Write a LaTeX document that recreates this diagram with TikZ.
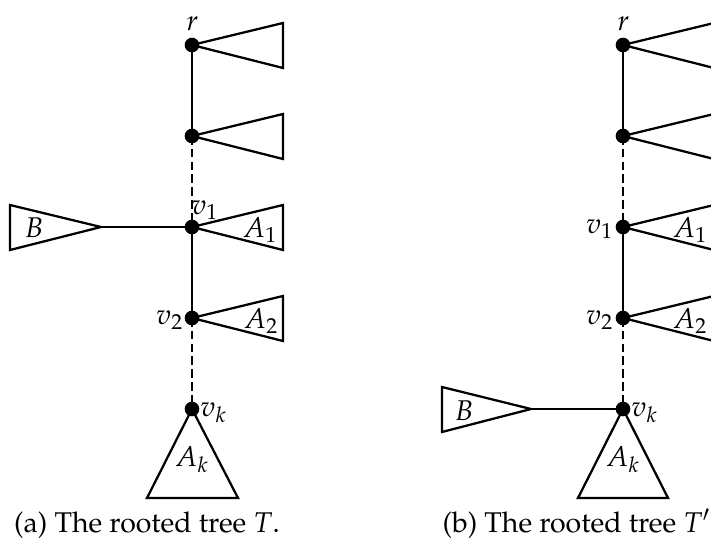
\documentclass[tikz,border=0pt]{standalone}
\usepackage[T1]{fontenc}
\usepackage{mathpazo}
\pgfdeclarelayer{bg}
\pgfsetlayers{bg,main}
\begin{document}
\begin{tikzpicture}[x=0.375pt,y=-0.375pt,
  every node/.style={font=\fontsize{10.7}{12.8}\selectfont},
  dot/.style={circle,fill=black,inner sep=0pt,minimum size=5.5pt},
  edge/.style={line width=0.85pt},
  dashedge/.style={line width=0.85pt,dash pattern=on 3.2pt off 1.6pt},
  tri/.style={line width=0.85pt,line join=miter},
  lbl/.style={inner sep=0pt}]
\useasboundingbox (0,0) rectangle (711,545);
\clip (0,0) rectangle (711,545);
% ---------- left tree (a) ----------
\node[dot] (ar) at (192,45) {};
\node[dot] (an) at (192,136) {};
\node[dot] (av1) at (192,227) {};
\node[dot] (av2) at (192,318) {};
\node[dot] (avk) at (192,409) {};
\coordinate (aBapex) at (101,227);
\begin{pgfonlayer}{bg}
\draw[edge] (ar.center) -- (an.center);
\draw[dashedge] (an.center) -- (av1.center);
\draw[edge] (av1.center) -- (av2.center);
\draw[dashedge] (av2.center) -- (avk.center);
\draw[edge] (aBapex) -- (av1.center);
\draw[tri] (ar.center) -- (283,23) -- (283,68) -- cycle;
\draw[tri] (an.center) -- (283,114) -- (283,159) -- cycle;
\draw[tri] (av1.center) -- (283,205) -- (283,250) -- cycle;
\draw[tri] (av2.center) -- (283,296) -- (283,341) -- cycle;
\draw[tri] (avk.center) -- (238,498) -- (147,498) -- cycle;
\draw[tri] (aBapex) -- (10,205) -- (10,250) -- cycle;
\end{pgfonlayer}
\node[lbl,anchor=base] (arl) at (192.5,31) {$r$};
\node[lbl] (av1l) at (205,210) {$v_1$};
\node[lbl,anchor=east] (av2l) at (184,320) {$v_2$};
\node[lbl,anchor=west] (avkl) at (200,413) {$v_k$};
\node[lbl] (aA1) at (260,230) {$A_1$};
\node[lbl] (aA2) at (261,321) {$A_2$};
\node[lbl] (aAk) at (192,460) {$A_k$};
\node[lbl] (aB) at (34,228) {$B$};
\node[lbl,anchor=base] (acap) at (147,532) {(a) The rooted tree $T$.};
% ---------- right tree (b) ----------
\node[dot] (br) at (623,45) {};
\node[dot] (bn) at (623,136) {};
\node[dot] (bv1) at (623,227) {};
\node[dot] (bv2) at (623,318) {};
\node[dot] (bvk) at (623,409) {};
\coordinate (bBapex) at (531,409);
\begin{pgfonlayer}{bg}
\draw[edge] (br.center) -- (bn.center);
\draw[dashedge] (bn.center) -- (bv1.center);
\draw[edge] (bv1.center) -- (bv2.center);
\draw[dashedge] (bv2.center) -- (bvk.center);
\draw[edge] (bBapex) -- (bvk.center);
\draw[tri] (br.center) -- (714,23) -- (714,68) -- cycle;
\draw[tri] (bn.center) -- (714,114) -- (714,159) -- cycle;
\draw[tri] (bv1.center) -- (714,205) -- (714,250) -- cycle;
\draw[tri] (bv2.center) -- (714,296) -- (714,341) -- cycle;
\draw[tri] (bvk.center) -- (668,498) -- (578,498) -- cycle;
\draw[tri] (bBapex) -- (442,387) -- (442,432) -- cycle;
\end{pgfonlayer}
\node[lbl,anchor=base] (brl) at (623.5,31) {$r$};
\node[lbl,anchor=east] (bv1l) at (614,229) {$v_1$};
\node[lbl,anchor=east] (bv2l) at (614,320) {$v_2$};
\node[lbl,anchor=west] (bvkl) at (631,413) {$v_k$};
\node[lbl] (bA1) at (690,230) {$A_1$};
\node[lbl] (bA2) at (690,321) {$A_2$};
\node[lbl] (bAk) at (623,460) {$A_k$};
\node[lbl] (bB) at (464,411) {$B$};
\node[lbl,anchor=base west] (bcap) at (442,532) {(b) The rooted tree $T'$.};
\end{tikzpicture}
\end{document}
